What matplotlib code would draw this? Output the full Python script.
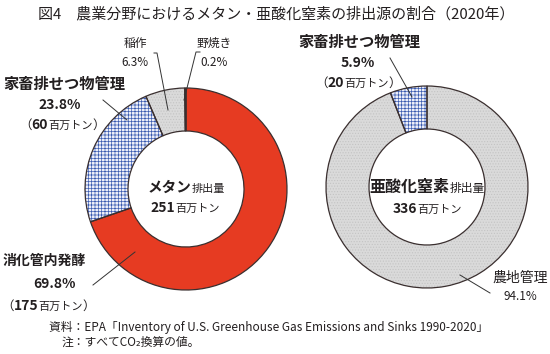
import matplotlib
matplotlib.use('Agg')
import matplotlib.pyplot as plt
from matplotlib.patches import Wedge

# ---- data ----
methane_labels = ['消化管内発酵', '家畜排せつ物管理', '稲作', '野焼き']
methane_shares = [69.8, 23.8, 6.3, 0.2]
methane_total = 251
n2o_labels = ['農地管理', '家畜排せつ物管理']
n2o_shares = [94.1, 5.9]
n2o_total = 336
amount_digestive = 175
amount_manure_ch4 = 60
amount_manure_n2o = 20

W, H = 550, 354
FAM = ['Noto Sans CJK JP', 'DejaVu Sans']
TXT = '#231f20'
EDGE = '#3a2f2f'
plt.rcParams['font.family'] = FAM
plt.rcParams['hatch.linewidth'] = 0.5

fig = plt.figure(figsize=(W / 100, H / 100), dpi=100)
ax = fig.add_axes([0, 0, 1, 1])

R = 101
RW = 43
c1 = (186, H - 189)
c2 = (427, H - 187)

styles = {
    '消化管内発酵': dict(fc='#e63b22', ec='#e63b22', hatch=None),
    '家畜排せつ物管理': dict(fc='#eef0fa', ec='#3a5bb0', hatch='+++++'),
    '稲作': dict(fc='#dadada', ec='#c4c4c4', hatch='......'),
    '野焼き': dict(fc='#6b3b2b', ec='#6b3b2b', hatch=None),
    '農地管理': dict(fc='#dadada', ec='#c4c4c4', hatch='......'),
}


def donut(shares, labels, center):
    wedges, _ = ax.pie(shares, startangle=90, counterclock=False, center=center,
                       radius=R, wedgeprops=dict(width=RW, linewidth=0))
    for w, lab in zip(wedges, labels):
        st = styles[lab]
        w.set_facecolor(st['fc'])
        w.set_edgecolor(st['ec'])
        w.set_linewidth(0)
        if st['hatch']:
            w.set_hatch(st['hatch'])
        ol = Wedge(w.center, w.r, w.theta1, w.theta2, width=w.width,
                   fill=False, edgecolor=EDGE, linewidth=0.9, zorder=3)
        ax.add_patch(ol)
    return wedges


donut(methane_shares, methane_labels, c1)
donut(n2o_shares, n2o_labels, c2)

ax.set_xlim(0, W)
ax.set_ylim(0, H)
ax.set_aspect('auto')
ax.axis('off')

renderer = fig.canvas.get_renderer()


def rich(x, y_top, parts, ha='center'):
    ts = []
    for s, size, weight in parts:
        t = ax.text(0, 0, s, fontsize=size, fontweight=weight, va='baseline',
                    ha='left', color=TXT, family=FAM)
        ts.append(t)
    widths = [t.get_window_extent(renderer).width for t in ts]
    total = sum(widths)
    x0 = x - total / 2 if ha == 'center' else x
    for t, w in zip(ts, widths):
        t.set_position((x0, H - y_top))
        x0 += w


def leader(pts):
    xs = [p[0] for p in pts]
    ys = [H - p[1] for p in pts]
    ax.plot(xs, ys, color='#333333', lw=0.7, zorder=4)


# title
rich(276, 18, [('図4　農業分野におけるメタン・亜酸化窒素の排出源の割合（2020年）', 10.8, 'normal')])

# methane labels
rich(135, 47, [(methane_labels[2], 8.5, 'normal')])
rich(135, 66, [(f'{methane_shares[2]}%', 8.5, 'normal')])
rich(214, 47, [(methane_labels[3], 8.5, 'normal')])
rich(214, 66, [(f'{methane_shares[3]}%', 8.5, 'normal')])
leader([(154, 53), (157, 53), (168, 110)])
leader([(200, 52), (196, 52), (184, 100)])

rich(64, 89, [(methane_labels[1], 11, 'bold')])
rich(60, 109, [(f'{methane_shares[1]}%', 10, 'bold')])
rich(62, 129, [('（', 9, 'normal'), (str(amount_manure_ch4), 10, 'bold'),
               ('百万トン', 8, 'normal'), ('）', 9, 'normal')])
leader([(103, 100), (127, 120)])

rich(44, 265, [(methane_labels[0], 10, 'bold')])
rich(55, 288, [(f'{methane_shares[0]}%', 10, 'bold')])
rich(48, 310, [('（', 9, 'normal'), (str(amount_digestive), 10, 'bold'),
               ('百万トン', 8, 'normal'), ('）', 9, 'normal')])
leader([(93, 285), (135, 252)])

rich(186, 192, [('メタン', 10.5, 'bold'), ('排出量', 8, 'normal')])
rich(185, 212, [(str(methane_total), 10, 'bold'), ('百万トン', 8, 'normal')])

# N2O labels
rich(359, 47, [(n2o_labels[1], 11, 'bold')])
rich(358, 67, [(f'{n2o_shares[1]}%', 10, 'bold')])
rich(358, 87, [('（', 9, 'normal'), (str(amount_manure_n2o), 10, 'bold'),
               ('百万トン', 8, 'normal'), ('）', 9, 'normal')])
leader([(390, 58), (412, 97)])

rich(520, 282, [(n2o_labels[0], 10, 'normal')])
rich(520, 300, [(f'{n2o_shares[0]}%', 8.5, 'normal')])
leader([(460, 275), (490, 293)])

rich(427, 192, [('亜酸化窒素', 11.5, 'bold'), ('排出量', 8.5, 'normal')])
rich(427, 213, [(str(n2o_total), 10, 'bold'), ('百万トン', 8, 'normal')])

# footer
rich(49, 331, [('資料：EPA「Inventory of U.S. Greenhouse Gas Emissions and Sinks 1990-2020」', 8.5, 'normal')], ha='left')
rich(62, 346, [('注：すべてCO₂換算の値。', 8.5, 'normal')], ha='left')

fig.savefig('out.png', dpi=100)
